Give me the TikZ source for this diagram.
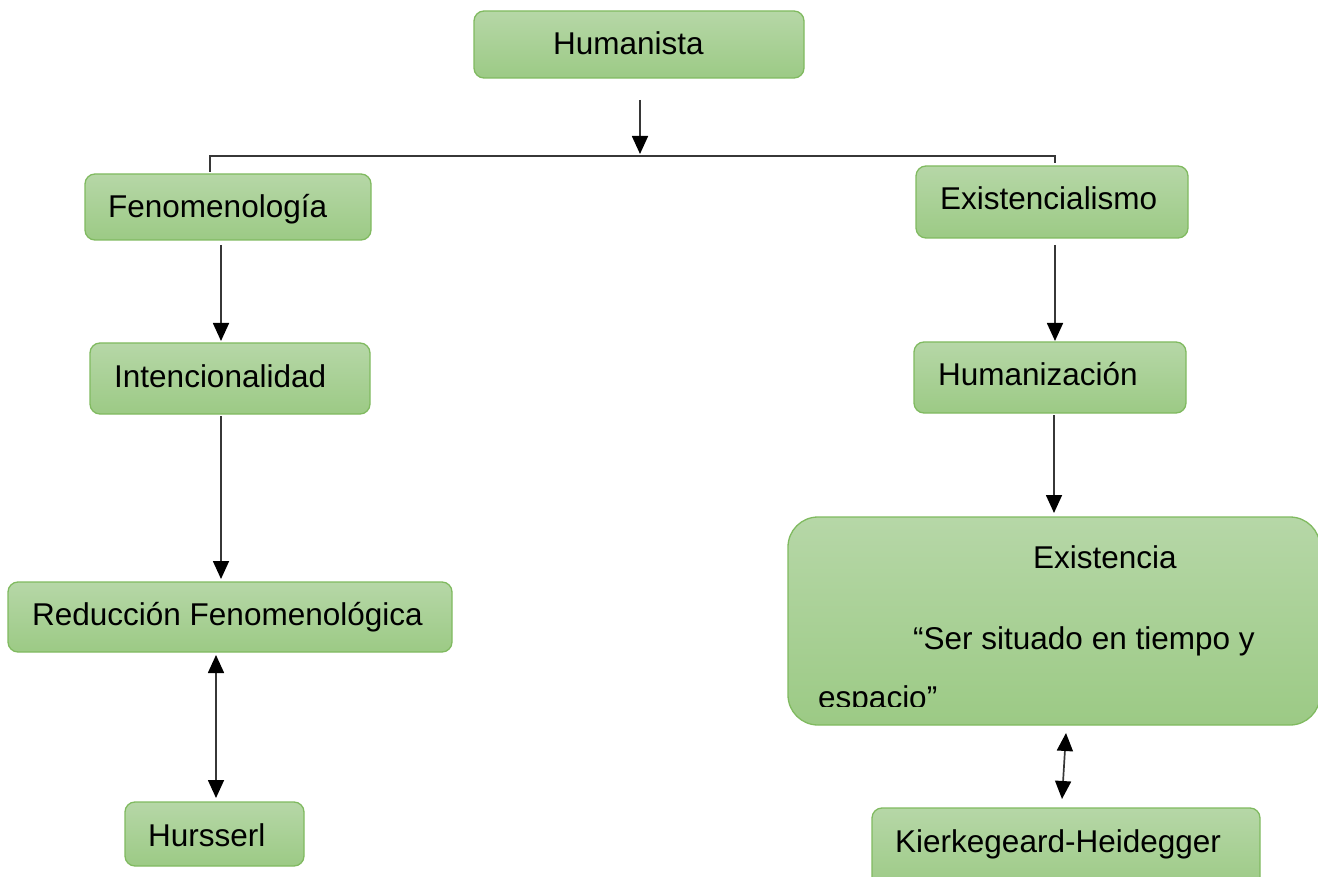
\documentclass[tikz,border=0pt]{standalone}
\usepackage{fontspec}
\setmainfont{Liberation Sans}
\usetikzlibrary{arrows.meta,calc}
\definecolor{boxtop}{RGB}{182,215,167}
\definecolor{boxbot}{RGB}{156,202,133}
\definecolor{boxline}{RGB}{128,186,96}
\definecolor{lin}{RGB}{55,55,55}
\tikzset{
  box/.style={draw=boxline, line width=1.3pt, rounded corners=10pt, top color=boxtop, bottom color=boxbot, inner sep=0pt, outer sep=0pt, minimum width=#1},
  txt/.style={anchor=base west, inner sep=0pt, font=\fontsize{31.5}{38}\selectfont},
  arr/.style={draw=lin, line width=1.7pt, -{Triangle[length=18pt,width=16pt,color=black]}},
  darr/.style={draw=lin, line width=1.7pt, {Triangle[length=18pt,width=16pt,color=black]}-{Triangle[length=18pt,width=16pt,color=black]}},
  brk/.style={draw=lin, line width=1.4pt}
}
\begin{document}
\begin{tikzpicture}[x=1pt,y=-1pt]
\useasboundingbox (0,0) rectangle (1318,877);
% boxes
\node[box=330pt, minimum height=67pt] (hum) at (639,44.5) {};
\node[box=286pt, minimum height=66pt] (fen) at (228,207) {};
\node[box=272pt, minimum height=72pt] (exi) at (1052,202) {};
\node[box=280pt, minimum height=71pt] (int) at (230,378.5) {};
\node[box=272pt, minimum height=71pt] (huz) at (1050,377.5) {};
\node[box=444pt, minimum height=70pt] (red) at (230,617) {};
\node[box=179pt, minimum height=64pt] (hur) at (214.5,834) {};
\node[box=532pt, minimum height=208pt, rounded corners=30pt] (exa) at (1054,621) {};
\node[box=388pt, minimum height=82pt] (kie) at (1066,849) {};
% texts
\node[txt] (thum) at (553,55) {Humanista};
\node[txt] (tfen) at (108,218) {Fenomenología};
\node[txt] (texi) at (940,210) {Existencialismo};
\node[txt] (tint) at (114,388) {Intencionalidad};
\node[txt] (thuz) at (938,386) {Humanización};
\node[txt] (tred) at (32,625) {Reducción Fenomenológica};
\node[txt] (thur) at (148,846) {Hursserl};
\node[txt] (texa) at (1033,568) {Existencia};
\node[txt] (tser) at (913,649) {“Ser situado en tiempo y};
\begin{scope}
\clip (780,680) rectangle (1000,706);
\node[txt] (tesp) at (818,708) {espacio”};
\end{scope}
\node[txt] (tkie) at (895,852) {Kierkegeard-Heidegger};
% bracket
\coordinate (bl) at (210,172);
\coordinate (blt) at (210,156);
\coordinate (brt) at (1055,156);
\coordinate (br) at (1055,163);
\coordinate (bm) at (640,154);
\draw[brk] (bl) -- (blt) -- (brt) -- (br);
% connectors
\draw[arr] ($(hum.south west)+(166,22)$) -- (bm);
\draw[arr] ($(fen.south west)+(136,5)$) -- ($(int.north west)+(131,-2)$);
\draw[arr] ($(int.south west)+(131,2)$) -- ($(red.north west)+(213,-3)$);
\draw[darr] ($(red.south west)+(208,3)$) -- ($(hur.north west)+(91,-4)$);
\draw[arr] ($(exi.south west)+(139,7)$) -- ($(huz.north west)+(141,-1)$);
\draw[arr] ($(huz.south west)+(140,2)$) -- ($(exa.north west)+(266,-4)$);
\draw[darr] ($(exa.south west)+(278,8)$) -- ($(kie.north west)+(190,-9)$);
\end{tikzpicture}
\end{document}
